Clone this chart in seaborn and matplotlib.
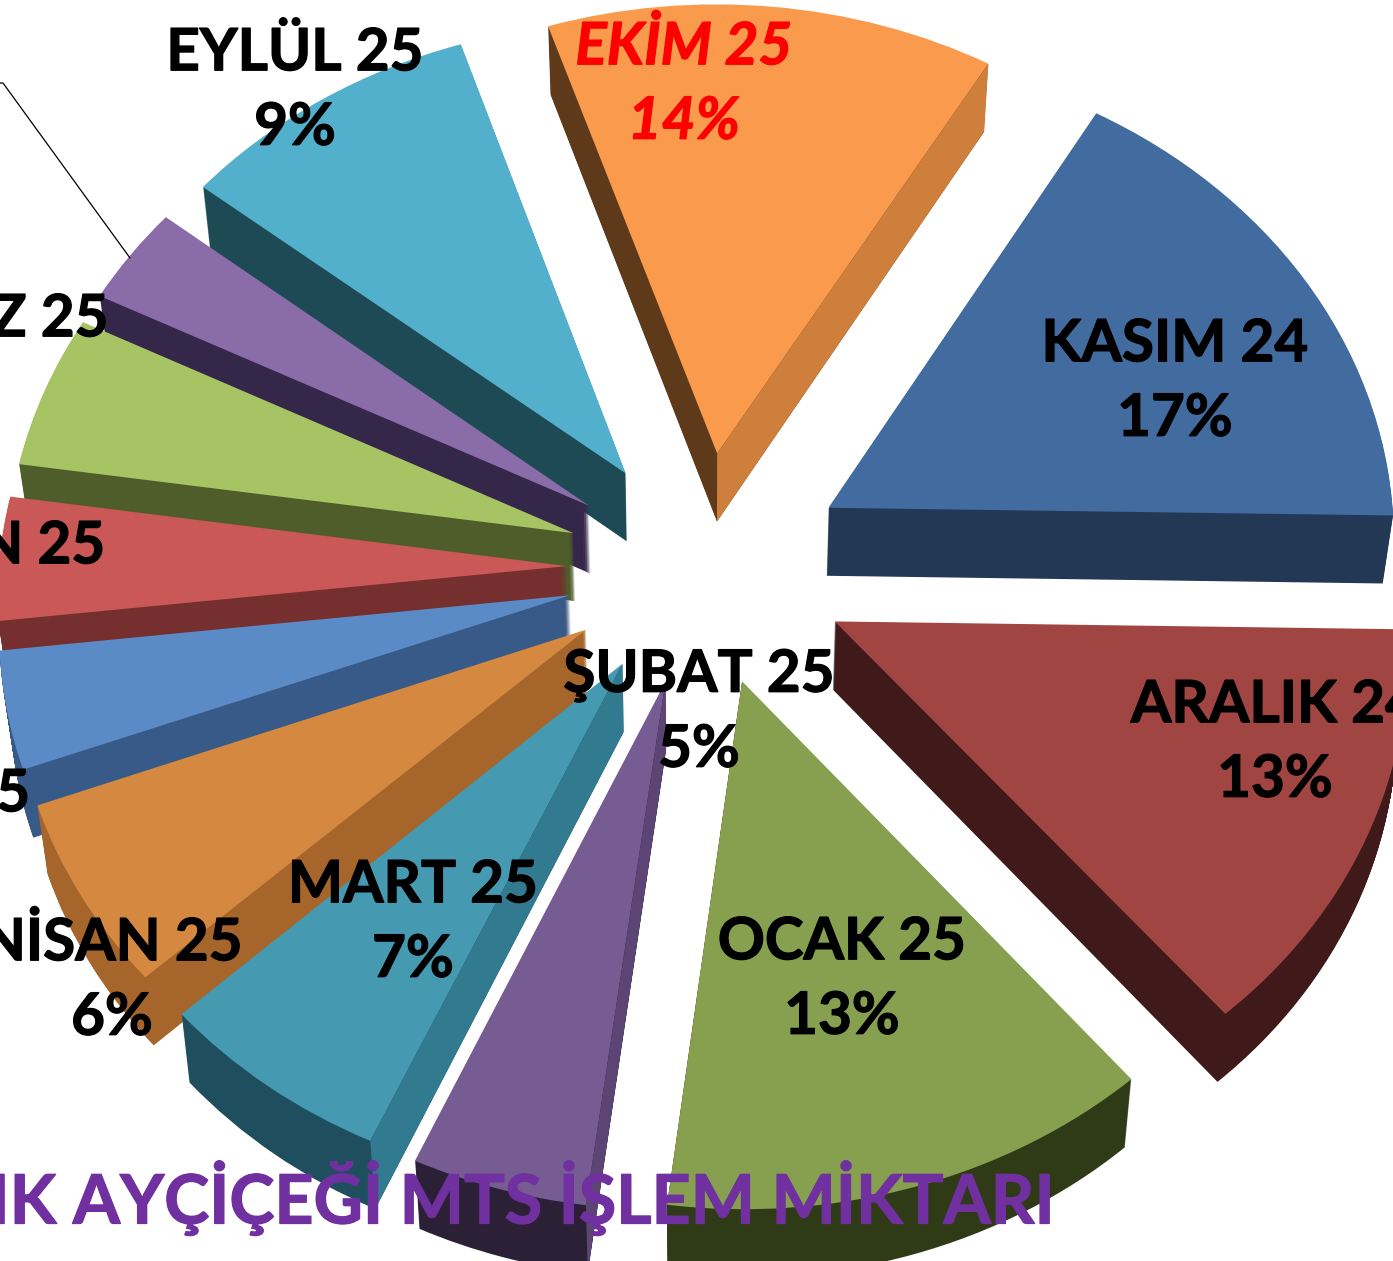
import numpy as np
import matplotlib
matplotlib.use("Agg")
import matplotlib.pyplot as plt
import matplotlib.patheffects as pe
from matplotlib.transforms import Transform, Affine2D
from matplotlib.patches import Polygon
import seaborn as sns

months = ["KASIM 24", "ARALIK 24", "OCAK 25", "ŞUBAT 25", "MART 25", "NİSAN 25",
          "MAYIS 25", "HAZİRAN 25", "TEMMUZ 25", "AĞUSTOS 25", "EYLÜL 25", "EKİM 25"]
shares = [16.8, 13.6, 13.2, 4.7, 6.4, 6.2, 3.9, 4.1, 5.1, 3.3, 9.2, 13.6]
share_labels = ["17%", "13%", "13%", "5%", "7%", "6%", "4%", "4%", "5%", "3%", "9%", "14%"]
top_colors = ["#426b9f", "#a14542", "#87a04f", "#775b93", "#4599b0", "#d48840",
              "#5b8bc6", "#c95856", "#a6c463", "#8a6ca8", "#52b0cd", "#f99a4c"]
side_colors = ["#233855", "#40191a", "#2f3a16", "#2c2036", "#1f4f5e", "#a5652b",
               "#375a88", "#752f2f", "#4f5d2b", "#35274a", "#1e4a55", "#5e3a1a"]
# colour of the lit radial face, and which edge of the slice carries it
lit_faces = {3: ("#5c4474", 0), 4: ("#327a90", 0), 11: ("#cf7f3c", 1)}

W, H = 1393, 1261
sns.set_theme(style="white")
plt.rcParams["font.family"] = ["Lato", "DejaVu Sans"]
fig = plt.figure(figsize=(W / 100, H / 100), dpi=100)
ax = fig.add_axes([0, 0, 1, 1])

EXPLODE = [0.255, 0.255] + [0.24] * 10
START = 59.5
DEPTH = 68
SHRINK = 0.015
CX, CY = 703, 568
RX, RY = 568, 486
K = 0.055


class Perspective(Transform):
    input_dims = output_dims = 2
    is_affine = False

    def transform_non_affine(self, v):
        v = np.asarray(v, dtype=float)
        w = 1 + K * v[:, 1]
        return np.column_stack([v[:, 0] / w, v[:, 1] / w])


def drop(d):
    """Pixel transform that pushes the top face down to depth d."""
    s = 1 - SHRINK * d / DEPTH
    return Affine2D().translate(-CX, 0).scale(s, 1).translate(CX, -d)


def draw(colors, offset):
    wedges, _ = ax.pie(shares, colors=colors, startangle=START, counterclock=False,
                       explode=EXPLODE, normalize=True, radius=1)
    tr = Perspective() + ax.transData + drop(offset)
    for w in wedges:
        w.set_transform(tr)
        w.set_linewidth(0)


for d in np.arange(DEPTH, 0, -1):
    draw(side_colors, d)
draw(top_colors, 0)

ax.set_aspect("auto")
ax.set_xlim(-CX / RX, (W - CX) / RX)
ax.set_ylim((CY - H) / RY, CY / RY)
ax.set_axis_off()

fr = np.array(shares) / np.sum(shares)
edges = START - 360 * np.concatenate([[0], np.cumsum(fr)])
for i, (color, side) in lit_faces.items():
    mid = np.radians((edges[i] + edges[i + 1]) / 2)
    a = np.radians(edges[i + side])
    ox, oy = EXPLODE[i] * np.cos(mid), EXPLODE[i] * np.sin(mid)
    seg = np.array([[ox, oy], [ox + np.cos(a), oy + np.sin(a)]])
    p = ax.transData.transform(Perspective().transform(seg))
    low = drop(DEPTH).transform(p)
    ax.add_patch(Polygon(np.array([p[0], p[1], low[1], low[0]]), closed=True, transform=None,
                         facecolor=color, edgecolor="none", zorder=1.5))


def px(x, y):
    return x / W, 1 - y / H


label_xy = [(1175, 379), (1275, 740), (842, 977), (699, 710), (413, 920), (112, 978),
            (-102, 829), (-66, 581), (-61, 354), (-60, 14), (295, 88), (684, 82)]
for name, pct, (x, y) in zip(months, share_labels, label_xy):
    is_red = name == "EKİM 25"
    col = "#ff0000" if is_red else "black"
    fig.text(*px(x, y + 3), f"{name}\n{pct}", ha="center", va="center", fontsize=42,
             fontweight="bold", linespacing=1.5, color=col,
             style="italic" if is_red else "normal", zorder=5,
             path_effects=[pe.withStroke(linewidth=0.9, foreground=col)])

fig.add_artist(plt.Line2D([0, 3 / W, 130 / W], [1 - 83 / H, 1 - 83 / H, 1 - 258 / H],
                          color="black", lw=0.9))
fig.text(*px(1054, 1198), "AYLIK AYÇİÇEĞİ MTS İŞLEM MİKTARI", ha="right", va="center",
         fontsize=49, fontweight="bold", color="#7030a0", zorder=6,
         path_effects=[pe.withStroke(linewidth=0.9, foreground="#7030a0")])

fig.savefig("out.png", dpi=100)
